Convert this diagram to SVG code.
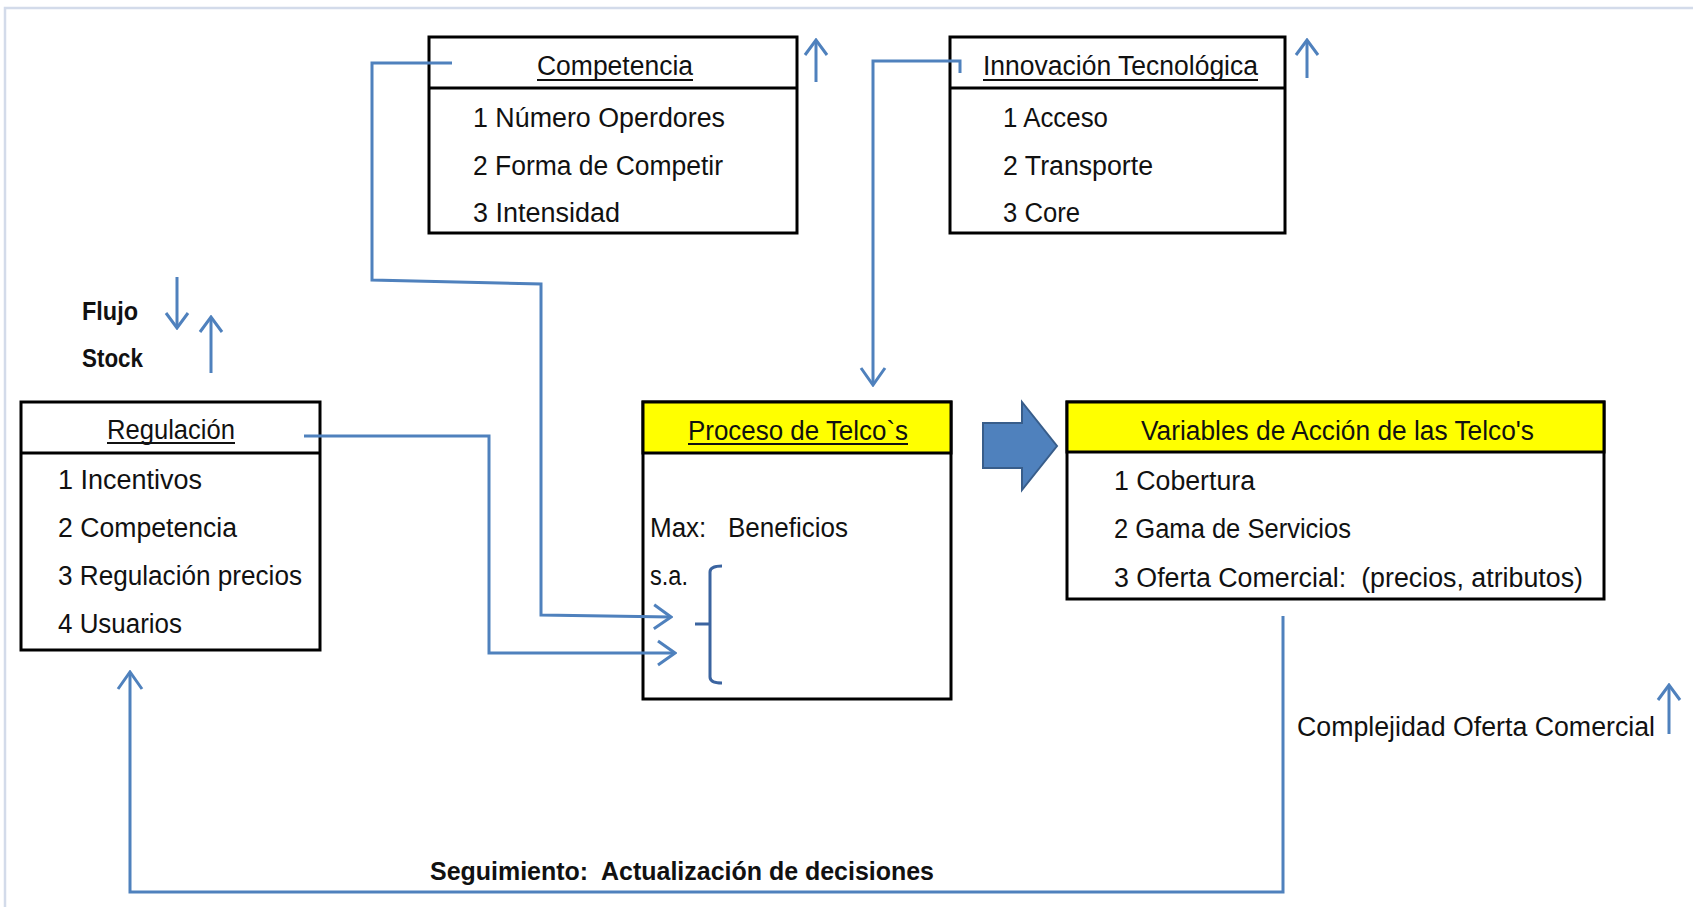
<svg xmlns="http://www.w3.org/2000/svg" width="1693" height="907" viewBox="0 0 1693 907">
<style>
.box{fill:#fff;stroke:#000;stroke-width:3}
.yel{fill:#ffff00;stroke:#000;stroke-width:3}
.t{font-family:"Liberation Sans",Arial,sans-serif;font-size:27px;fill:#111}
.b{font-weight:bold;font-size:26px}
.ul{stroke:#111;stroke-width:2}
.con{fill:none;stroke:#4F81BD;stroke-width:3;stroke-linejoin:miter}
.sm{fill:none;stroke:#4F81BD;stroke-width:3}
</style>
<defs>
<marker id="big" markerUnits="userSpaceOnUse" viewBox="0 0 20 28" refX="18" refY="14" markerWidth="20" markerHeight="28" orient="auto">
<path d="M1,2 L18,14 L1,26" fill="none" stroke="#4F81BD" stroke-width="3"/>
</marker>
<marker id="small" markerUnits="userSpaceOnUse" viewBox="0 0 18 26" refX="16" refY="13" markerWidth="18" markerHeight="26" orient="auto">
<path d="M1,2 L16,13 L1,24" fill="none" stroke="#4F81BD" stroke-width="3"/>
</marker>
</defs>
<rect x="0" y="0" width="1693" height="907" fill="#fff"/>
<path d="M5,907 V8 H1693" fill="none" stroke="#D3DBEA" stroke-width="2.5"/>

<g id="competencia">
<rect class="box" x="429" y="37" width="368" height="196"/>
<line x1="429" y1="88" x2="797" y2="88" stroke="#000" stroke-width="3"/>
<text class="t" x="537" y="75" textLength="156" lengthAdjust="spacingAndGlyphs">Competencia</text>
<line class="ul" x1="537" y1="80" x2="693" y2="80"/>
<text class="t" x="473" y="127" textLength="252" lengthAdjust="spacingAndGlyphs">1 Número Operdores</text>
<text class="t" x="473" y="175" textLength="250" lengthAdjust="spacingAndGlyphs">2 Forma de Competir</text>
<text class="t" x="473" y="222" textLength="147" lengthAdjust="spacingAndGlyphs">3 Intensidad</text>
</g>

<g id="innovacion">
<rect class="box" x="950" y="37" width="335" height="196"/>
<line x1="950" y1="88" x2="1285" y2="88" stroke="#000" stroke-width="3"/>
<text class="t" x="983" y="75" textLength="275" lengthAdjust="spacingAndGlyphs">Innovación Tecnológica</text>
<line class="ul" x1="983" y1="80" x2="1258" y2="80"/>
<text class="t" x="1003" y="127" textLength="105" lengthAdjust="spacingAndGlyphs">1 Acceso</text>
<text class="t" x="1003" y="175" textLength="150" lengthAdjust="spacingAndGlyphs">2 Transporte</text>
<text class="t" x="1003" y="222" textLength="77" lengthAdjust="spacingAndGlyphs">3 Core</text>
</g>

<g id="leyenda">
<text class="t b" x="82" y="320" textLength="56" lengthAdjust="spacingAndGlyphs">Flujo</text>
<text class="t b" x="82" y="367" textLength="61" lengthAdjust="spacingAndGlyphs">Stock</text>
</g>

<g id="regulacion">
<rect class="box" x="21" y="402" width="299" height="248"/>
<line x1="21" y1="453" x2="320" y2="453" stroke="#000" stroke-width="3"/>
<text class="t" x="107" y="439" textLength="128" lengthAdjust="spacingAndGlyphs">Regulación</text>
<line class="ul" x1="107" y1="443" x2="235" y2="443"/>
<text class="t" x="58" y="489" textLength="144" lengthAdjust="spacingAndGlyphs">1 Incentivos</text>
<text class="t" x="58" y="537" textLength="179" lengthAdjust="spacingAndGlyphs">2 Competencia</text>
<text class="t" x="58" y="585" textLength="244" lengthAdjust="spacingAndGlyphs">3 Regulación precios</text>
<text class="t" x="58" y="633" textLength="124" lengthAdjust="spacingAndGlyphs">4 Usuarios</text>
</g>

<g id="proceso">
<rect class="box" x="643" y="402" width="308" height="297"/>
<rect class="yel" x="643" y="402" width="308" height="51"/>
<text class="t" x="688" y="440" textLength="220" lengthAdjust="spacingAndGlyphs">Proceso de Telco`s</text>
<line class="ul" x1="688" y1="444" x2="908" y2="444"/>
<text class="t" x="650" y="537" textLength="198" lengthAdjust="spacingAndGlyphs" xml:space="preserve">Max:   Beneficios</text>
<text class="t" x="650" y="585" textLength="38" lengthAdjust="spacingAndGlyphs">s.a.</text>
<path d="M722,566 Q710,566 710,572 V677 Q710,683 722,683 M695,624 H710" fill="none" stroke="#3B64A0" stroke-width="3"/>
</g>

<g id="flecha-bloque">
<polygon points="983,423 1022,423 1022,402 1057,446 1022,490 1022,468 983,468" fill="#4F81BD" stroke="#385D8A" stroke-width="2"/>
</g>

<g id="variables">
<rect class="box" x="1067" y="402" width="537" height="197"/>
<rect class="yel" x="1067" y="402" width="537" height="50"/>
<text class="t" x="1141" y="440" textLength="393" lengthAdjust="spacingAndGlyphs">Variables de Acción de las Telco's</text>
<text class="t" x="1114" y="490" textLength="141" lengthAdjust="spacingAndGlyphs">1 Cobertura</text>
<text class="t" x="1114" y="538" textLength="237" lengthAdjust="spacingAndGlyphs">2 Gama de Servicios</text>
<text class="t" x="1114" y="587" textLength="469" lengthAdjust="spacingAndGlyphs" xml:space="preserve">3 Oferta Comercial:  (precios, atributos)</text>
</g>

<g id="etiquetas">
<text class="t" x="1297" y="736" textLength="358" lengthAdjust="spacingAndGlyphs">Complejidad Oferta Comercial</text>
<text class="t b" x="430" y="880" textLength="504" lengthAdjust="spacingAndGlyphs" xml:space="preserve">Seguimiento:  Actualización de decisiones</text>
</g>

<g id="conectores">
<path class="con" d="M452,63 H372 V280 L541,284 V615 L671,617" marker-end="url(#big)"/>
<path class="con" d="M304,436 H489 V653 H675" marker-end="url(#big)"/>
<path class="con" d="M960,73 V61 H873 V385" marker-end="url(#big)"/>
<path class="con" d="M1283,616 V892 H130 V672" marker-end="url(#big)"/>
<path class="sm" d="M816,82 V40" marker-end="url(#small)"/>
<path class="sm" d="M1307,78 V40" marker-end="url(#small)"/>
<path class="sm" d="M177,277 V328" marker-end="url(#small)"/>
<path class="sm" d="M211,373 V317" marker-end="url(#small)"/>
<path class="sm" d="M1669,734 V685" marker-end="url(#small)"/>
</g>
</svg>
